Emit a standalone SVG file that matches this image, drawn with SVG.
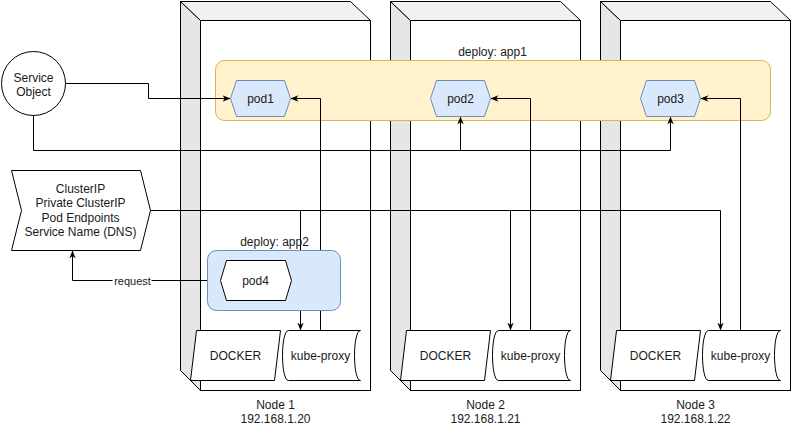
<svg xmlns="http://www.w3.org/2000/svg" width="791" height="426" viewBox="0 0 791 426">
<defs>
<style>
.t{font-family:"Liberation Sans",Arial,Helvetica,sans-serif;font-size:12px;fill:#1a1a1a;text-anchor:middle}
.ln{fill:none;stroke:#000;stroke-width:1}
.face{fill:#fff;stroke:#000;stroke-width:1}
.side{fill:#e6e6e6;stroke:#000;stroke-width:1}
.top{fill:#f1f1f1;stroke:#000;stroke-width:1}
.pod{fill:#dae8fc;stroke:#6c8ebf;stroke-width:1}
.shape{fill:#fff;stroke:#000;stroke-width:1}
</style>
<marker id="arr" viewBox="0 0 10 10" refX="10" refY="5" markerWidth="8" markerHeight="8" markerUnits="userSpaceOnUse" orient="auto">
<path d="M0,1 L10,5 L0,9 L3,5 Z" fill="#000"/>
</marker>
</defs>
<g transform="translate(0.5,0.5)">
<g id="node1">
<path class="side" d="M180,1 L200,20 L200,390 L180,370 Z"/>
<path class="top" d="M180,1 L350,1 L370,20 L200,20 Z"/>
<rect class="face" x="200" y="20" width="170" height="370"/>
<text class="t" x="275" y="408">Node 1</text>
<text class="t" x="275" y="422">192.168.1.20</text>
</g>
<g id="node2">
<path class="side" d="M390,1 L410,20 L410,390 L390,370 Z"/>
<path class="top" d="M390,1 L560,1 L580,20 L410,20 Z"/>
<rect class="face" x="410" y="20" width="170" height="370"/>
<text class="t" x="485" y="408">Node 2</text>
<text class="t" x="485" y="422">192.168.1.21</text>
</g>
<g id="node3">
<path class="side" d="M600,1 L620,20 L620,390 L600,370 Z"/>
<path class="top" d="M600,1 L770,1 L790,20 L620,20 Z"/>
<rect class="face" x="620" y="20" width="170" height="370"/>
<text class="t" x="695" y="408">Node 3</text>
<text class="t" x="695" y="422">192.168.1.22</text>
</g>
<g id="deploy-app1">
<rect x="215" y="60" width="555" height="60" rx="9" fill="#fff2cc" stroke="#d6b656"/>
<text class="t" x="492" y="55">deploy: app1</text>
</g>
<g id="connectors">
<path class="ln" d="M65,83 L148,83 L148,98 L230,98" marker-end="url(#arr)"/>
<path class="ln" d="M33,115 L33,150 L460,150 L460,116" marker-end="url(#arr)"/>
<path class="ln" d="M460,150 L670,150 L670,116" marker-end="url(#arr)"/>
<path class="ln" d="M320,330 L320,98 L290,98" marker-end="url(#arr)"/>
<path class="ln" d="M530,330 L530,98 L490,98" marker-end="url(#arr)"/>
<path class="ln" d="M740,330 L740,98 L700,98" marker-end="url(#arr)"/>
<path class="ln" d="M150,210 L300,210 L300,330" marker-end="url(#arr)"/>
<path class="ln" d="M300,210 L510,210 L510,330" marker-end="url(#arr)"/>
<path class="ln" d="M510,210 L720,210 L720,330" marker-end="url(#arr)"/>
<path class="ln" d="M207,280 L72,280 L72,250" marker-end="url(#arr)"/>
<rect x="112" y="273" width="39" height="14" fill="#fff"/>
<text class="t" x="132" y="284" style="font-size:11px">request</text>
</g>
<g id="service-object">
<circle cx="33" cy="83" r="32" class="shape"/>
<text class="t" x="33" y="81">Service</text>
<text class="t" x="33" y="95">Object</text>
</g>
<g id="clusterip">
<path class="shape" d="M11,170 L140,170 L150,210 L140,250 L11,250 L21,210 Z"/>
<text class="t" x="80" y="192">ClusterIP</text>
<text class="t" x="80" y="206.5">Private ClusterIP</text>
<text class="t" x="80" y="221">Pod Endpoints</text>
<text class="t" x="80" y="235.5">Service Name (DNS)</text>
</g>
<g id="pod1">
<path class="pod" d="M236,80 L284,80 L290,98 L284,116 L236,116 L230,98 Z"/>
<text class="t" x="260" y="102">pod1</text>
</g>
<g id="pod2">
<path class="pod" d="M436,80 L484,80 L490,98 L484,116 L436,116 L430,98 Z"/>
<text class="t" x="460" y="102">pod2</text>
</g>
<g id="pod3">
<path class="pod" d="M646,80 L694,80 L700,98 L694,116 L646,116 L640,98 Z"/>
<text class="t" x="670" y="102">pod3</text>
</g>
<g id="deploy-app2">
<rect x="207" y="250" width="133" height="60" rx="9" fill="#dae8fc" stroke="#6c8ebf"/>
<text class="t" x="274" y="245">deploy: app2</text>
</g>
<g id="pod4">
<path class="shape" d="M226,260 L285,260 L291,280 L285,300 L226,300 L220,280 Z"/>
<text class="t" x="255" y="284">pod4</text>
</g>
<g id="docker1">
<path class="shape" d="M196,330 L280,330 L274,380 L190,380 Z"/>
<text class="t" x="235" y="359">DOCKER</text>
</g>
<g id="kube-proxy1">
<path class="shape" d="M288,330 L360,330 C352,330 352,380 360,380 L288,380 C280,380 280,330 288,330 Z"/>
<text class="t" x="320" y="359">kube-proxy</text>
</g>
<g id="docker2">
<path class="shape" d="M406,330 L490,330 L484,380 L400,380 Z"/>
<text class="t" x="445" y="359">DOCKER</text>
</g>
<g id="kube-proxy2">
<path class="shape" d="M498,330 L570,330 C562,330 562,380 570,380 L498,380 C490,380 490,330 498,330 Z"/>
<text class="t" x="530" y="359">kube-proxy</text>
</g>
<g id="docker3">
<path class="shape" d="M616,330 L700,330 L694,380 L610,380 Z"/>
<text class="t" x="655" y="359">DOCKER</text>
</g>
<g id="kube-proxy3">
<path class="shape" d="M708,330 L780,330 C772,330 772,380 780,380 L708,380 C700,380 700,330 708,330 Z"/>
<text class="t" x="740" y="359">kube-proxy</text>
</g>
</g>
</svg>
